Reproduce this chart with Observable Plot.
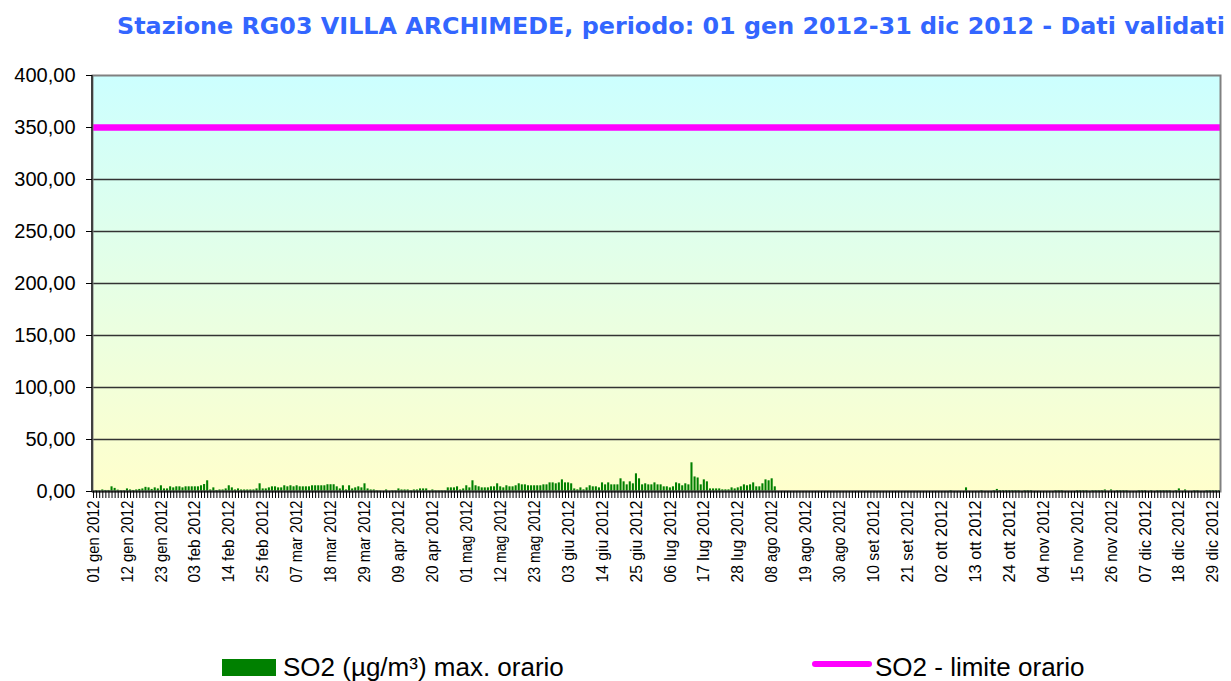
<!DOCTYPE html>
<html>
<head>
<meta charset="utf-8">
<script src="https://cdn.jsdelivr.net/npm/d3@7"></script>
<script src="https://cdn.jsdelivr.net/npm/@observablehq/plot@0.6"></script>
<style>
  html, body { margin: 0; padding: 0; background: #fff; width: 1231px; height: 681px; overflow: hidden; }
  #title { position: absolute; left: 117px; top: 15px; white-space: nowrap; font-family: "DejaVu Sans", Verdana, sans-serif; font-weight: bold; color: #3366FF; line-height: 1; }
  #chart { position: absolute; left: 0; top: 50px; }
  .leg { position: absolute; font-family: "Liberation Sans", Arial, sans-serif; font-size: 26px; line-height: 1; white-space: nowrap; color: #000; top: 654px; }
  .sw1 { position: absolute; left: 222px; top: 659px; width: 54px; height: 17px; background: #008000; }
  .sw2 { position: absolute; left: 812px; top: 661px; width: 60px; height: 6px; background: #FF00FF; border-radius: 3px; }
</style>
</head>
<body>
<div id="title"></div>
<div id="chart"></div>
<div class="sw1"></div><div class="leg" style="left:283px">SO2 (µg/m³) max. orario</div>
<div class="sw2"></div><div class="leg" style="left:875px">SO2 - limite orario</div>
<script>
const titleText = "Stazione RG03 VILLA ARCHIMEDE, periodo: 01 gen 2012-31 dic 2012 - Dati validati";
const monthsIt = ["gen","feb","mar","apr","mag","giu","lug","ago","set","ott","nov","dic"];
const yTicks = [0, 50, 100, 150, 200, 250, 300, 350, 400];
const limitValue = 350;

// daily maximum hourly SO2 (µg/m³); null = no data
const gen = [0.6,0.7,0.5,1.5,1,1,4.5,3,1.3,0.7, 0.7,2.5,1.5,1,1.5,2,2.5,4,3.5,2, 3.5,2.5,5.5,2.5,2.5,4.5,3.5,4.5,4.5,3.5, 4.5];
const feb = [4.5,4.5,4.5,4.5,5.5,6.7,10.3,1.5,3.5, 1,1.5,1.5,2.5,5.5,3.5,1.5,2.5,1.5,1.5, 1.5,1.5,1.5,2.5,7.4,2.5,2.5,3.5,4.5,4.5];
const mar = [3.5,3.5,5.5,4.5,5.5,4.5,5.5,4.5,4.5,4.5,4.5,5.5,5.5,5.5,5.5,5.5,6.5,6.5,6.5,4.5,2.5,5.5,1.5,5.5,2.5,3.5,4.5,3.5,7.4,2.5,1.5];
const apr = [1.5,0.6,0.3,null,1.5,null,0.6,0.6,2.5,1.5,1.5,1.5,0.6,1.5,1.5,2.5,2.5,2.5,0.3,1.5,0.6,0.6,0.6,0.6,3.5,3.5,3.5,4.5,1.5,2.5];
const mag = [5.5,3.5,10.3,5.5,4.5,3.5,3.5,3.5,4.5,4.5,7.4,4.5,3.5,5.5,4.5,4.5,5.5,7.4,6.4,6.4,5.5,5.5,5.5,5.5,5.5,6.4,6.4,8.3,8.3,7.4,8.3];
const giu = [11.2,8.3,8.3,7.4,2.5,1.6,3.5,1.6,3.5,5.5,4.5,4.5,3.5,8.3,6.4,8.3,6.4,6.4,6.4,12.2,9.3,6.4,9.3,7.4,17,12.2,6.4,7.4,6.4,6.4];
const lug = [8.3,6.4,6.4,4.5,4.5,3.5,4.5,8.3,7.4,5.5,7.4,6.4,27.6,14,13,6.4,11.2,9.3,2.5,2.5,2.5,2.5,1.6,1.6,1.6,3.5,2.5,3.5,4.5,6.4,5.5];
const ago = [6.4,8.3,4.5,4.5,7.4,11.2,10.3,12.2,4.5,null,null,null,null,null,null,null,null,null,null,null,null,null,null,null,null,null,null,null,null,null,null];
const set = [null,null,null,null,null,null,null,null,null,null,null,null,null,null,null,null,null,null,null,null,null,null,null,null,null,null,null,null,null,null];
const ott = [null,null,null,null,0.9,null,null,null,null,3.5,null,null,null,null,0.9,null,null,null,0.9,2,0.9,0.9,0.9,0.9,0.9,0.9,0.9,null,0.9,0.9,0.9];
const nov = [null,null,null,null,null,null,null,0.9,0.9,0.9,null,null,null,null,0.9,0.9,0.9,0.9,null,0.9,0.9,0.9,0.9,1.5,null,1.5,null,0.9,0.9,0.9];
const dic = [0.9,null,null,null,0.9,0.9,0.9,null,0.9,null,0.9,0.9,0.9,0.9,0.9,null,0.9,2.5,null,1.5,null,null,0.9,0.9,null,null,0.9,0.9,0.9,0.9,0.9];

const values = [].concat(gen, feb, mar, apr, mag, giu, lug, ago, set, ott, nov, dic);
const days = d3.utcDay.range(new Date(Date.UTC(2012, 0, 1)), new Date(Date.UTC(2013, 0, 1)));
const dayIdx = days.map((d, i) => i);
const labelIdx = dayIdx.filter(i => i % 11 === 0);
const fmtDay = i => { const d = days[i]; return String(d.getUTCDate()).padStart(2, "0") + " " + monthsIt[d.getUTCMonth()] + " 2012"; };
const data = dayIdx.map(i => ({day: i, value: values[i]})).filter(d => d.value != null);

// title: fit to its measured width in the reference
const tEl = document.getElementById("title");
const cv = document.createElement("canvas").getContext("2d");
cv.font = "bold 24px 'DejaVu Sans'";
const tw = cv.measureText(titleText).width;
tEl.style.fontSize = (24 * 1108 / tw).toFixed(2) + "px";
tEl.textContent = titleText;

const background = (index, scales, values, dim) => {
  const g = d3.create("svg:g");
  const grad = g.append("defs").append("linearGradient").attr("id", "bg").attr("x1", 0).attr("y1", 0).attr("x2", 0).attr("y2", 1);
  grad.append("stop").attr("offset", "0%").attr("stop-color", "#CCFFFF");
  grad.append("stop").attr("offset", "100%").attr("stop-color", "#FFFFCC");
  g.append("rect").attr("x", dim.marginLeft).attr("y", dim.marginTop)
    .attr("width", dim.width - dim.marginLeft - dim.marginRight)
    .attr("height", dim.height - dim.marginTop - dim.marginBottom)
    .attr("fill", "url(#bg)");
  return g.node();
};
const leftAxisLine = (index, scales, values, dim) => {
  const g = d3.create("svg:g");
  g.append("line").attr("x1", dim.marginLeft).attr("x2", dim.marginLeft)
    .attr("y1", dim.marginTop).attr("y2", dim.height - dim.marginBottom)
    .attr("stroke", "#404040").attr("stroke-width", 2);
  return g.node();
};

const plot = Plot.plot({
  width: 1231,
  height: 590,
  marginLeft: 92,
  marginRight: 11,
  marginTop: 25,
  marginBottom: 149,
  style: {fontFamily: "'Liberation Sans', Arial, sans-serif", fontSize: "20px", color: "#000", background: "transparent"},
  x: {type: "band", domain: dayIdx, paddingInner: 0.33, paddingOuter: 0, label: null},
  y: {domain: [0, 400], label: null},
  marks: [
    background,
    Plot.ruleY(yTicks.filter(v => v > 0 && v < 400), {stroke: "#333", strokeWidth: 1.3}),
    Plot.barY(data, {x: "day", y: "value", fill: "#008000"}),
    Plot.ruleY([limitValue], {stroke: "#FF00FF", strokeWidth: 6.5}),
    Plot.frame({stroke: "#808080", strokeWidth: 2}),
    Plot.ruleY([0], {stroke: "#303030", strokeWidth: 2}),
    leftAxisLine,
    Plot.axisY({ticks: yTicks, tickFormat: v => v.toFixed(2).replace(".", ","), tickSize: 6, tickPadding: 11, stroke: "#000"}),
    Plot.axisX({ticks: dayIdx, tickFormat: () => "", tickSize: 7, stroke: "#000"}),
    Plot.axisX({ticks: labelIdx, tickFormat: fmtDay, tickRotate: -90, tickSize: 0, tickPadding: 9, stroke: "#000"})
  ]
});
document.getElementById("chart").appendChild(plot);

// x tick labels sized to the reference length
plot.querySelectorAll('g[aria-label="x-axis tick label"] text').forEach(t => {
  t.setAttribute("font-size", "16px");
  t.setAttribute("textLength", "82");
  t.setAttribute("lengthAdjust", "spacingAndGlyphs");
});
</script>
</body>
</html>
